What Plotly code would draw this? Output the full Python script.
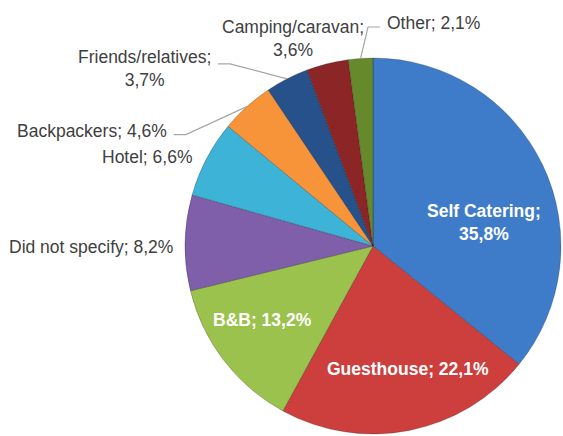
import math
import plotly.graph_objects as go

# ---- data ----
categories = ["Self Catering", "Guesthouse", "B&B", "Did not specify", "Hotel",
              "Backpackers", "Friends/relatives", "Camping/caravan", "Other"]
values = [35.8, 22.1, 13.2, 8.2, 6.6, 4.6, 3.7, 3.6, 2.1]

colors = ["#3E7CCA", "#CC3F3C", "#9CC24E", "#7F5FAA", "#3DB3D8",
          "#F7943A", "#26518A", "#8C2626", "#66892C"]

# ---- layout (pixels) ----
W, H = 563, 436
CX, CY, R = 373, 246, 188

FONT = "Liberation Sans, Arial, sans-serif"
FS = 17.5

# label styles: inside labels (radius fraction + shift), outside labels (offset from rim point)
label_style = {
    "Self Catering": dict(kind="in", rf=0.60, sx=9, sy=25, br=True),
    "Guesthouse": dict(kind="in", rf=0.68, sx=10, sy=-2, br=False),
    "B&B": dict(kind="in", rf=0.70, sx=-6, sy=-6, br=False),
    "Did not specify": dict(kind="out", dx=-10, dy=4, xa="right", br=False),
    "Hotel": dict(kind="out", dx=-12, dy=-1.5, xa="right", br=False),
    "Backpackers": dict(kind="out", dx=-78, dy=24, xa="right", br=False, leader=4),
    "Friends/relatives": dict(kind="out", dx=-74, dy=-10, xa="right", br=True, leader=-5),
    "Camping/caravan": dict(kind="out", dx=-34.5, dy=-25, xa="center", br=True),
    "Other": dict(kind="out", dx=24.4, dy=-35.4, xa="left", br=False, leader=4),
}


def fmt(v):
    return f"{v:.1f}".replace(".", ",") + "%"


def px2paper(x, y):
    return x / W, 1 - y / H


fig = go.Figure(go.Pie(
    labels=categories,
    values=values,
    sort=False,
    direction="clockwise",
    rotation=0,
    marker=dict(colors=colors, line=dict(color="rgba(0,0,0,0.22)", width=1)),
    textinfo="none",
    hoverinfo="label+percent",
    showlegend=False,
    domain=dict(x=[(CX - R) / W, (CX + R) / W],
                y=[(H - CY - R) / H, (H - CY + R) / H]),
))

total = sum(values)
annotations = []
shapes = []
cum = 0.0
for cat, v in zip(categories, values):
    mid = (cum + v / 2) / total * 2 * math.pi
    cum += v
    st = label_style[cat]
    sep = ";<br>" if st["br"] else "; "
    if st["kind"] == "in":
        px = CX + R * st["rf"] * math.sin(mid) + st["sx"]
        py = CY - R * st["rf"] * math.cos(mid) + st["sy"]
        x, y = px2paper(px, py)
        annotations.append(dict(
            x=x, y=y, xref="paper", yref="paper", showarrow=False,
            text=f"<b>{cat}{sep}{fmt(v)}</b>", align="center",
            xanchor="center", yanchor="middle",
            font=dict(family=FONT, size=FS, color="white")))
    else:
        tx = CX + R * math.sin(mid)
        ty = CY - R * math.cos(mid)
        px, py = tx + st["dx"], ty + st["dy"]
        x, y = px2paper(px, py)
        annotations.append(dict(
            x=x, y=y, xref="paper", yref="paper", showarrow=False,
            text=f"{cat}{sep}{fmt(v)}", align="center",
            xanchor=st["xa"], yanchor="middle",
            font=dict(family=FONT, size=FS, color="#404040")))
        if "leader" in st:
            side = 1 if st["xa"] == "right" else -1
            sx0 = px + side * 5
            sy0 = py + st["leader"]
            ex = sx0 + side * 12
            p0 = px2paper(sx0, sy0)
            p1 = px2paper(ex, sy0)
            p2 = px2paper(tx, ty)
            shapes.append(dict(
                type="path", xref="paper", yref="paper",
                path=f"M {p0[0]} {p0[1]} L {p1[0]} {p1[1]} L {p2[0]} {p2[1]}",
                line=dict(color="#A6A6A6", width=1.2)))

fig.update_layout(
    width=W, height=H,
    margin=dict(l=0, r=0, t=0, b=0),
    paper_bgcolor="white", plot_bgcolor="white",
    annotations=annotations, shapes=shapes,
)

fig.write_html("out.html", config={"displayModeBar": False},
               post_script="document.body.style.margin='0';document.body.style.overflow='hidden';")
